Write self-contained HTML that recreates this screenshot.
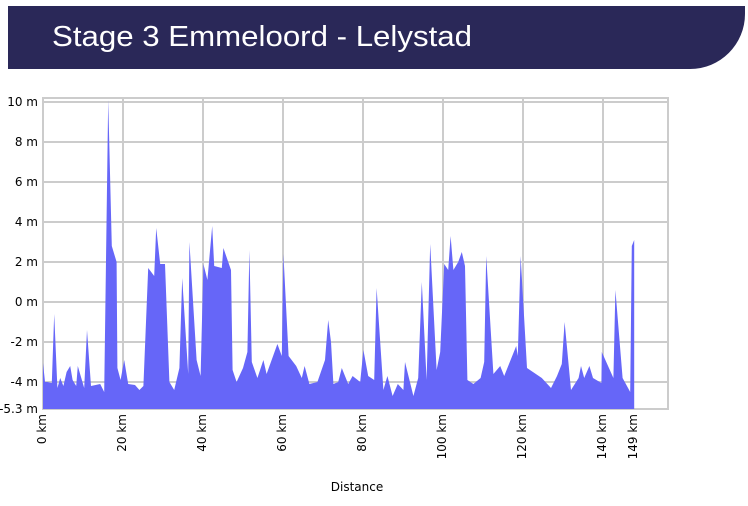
<!DOCTYPE html>
<html><head><meta charset="utf-8"><style>
html,body{margin:0;padding:0;background:#fff;width:748px;height:506px;overflow:hidden}
svg{display:block}
text{font-family:"DejaVu Sans","Liberation Sans",sans-serif}
</style></head><body>
<svg id="chart" width="748" height="506" viewBox="0 0 748 506">
<path d="M8 6 H745 V14 A55 55 0 0 1 690 69 H8 Z" fill="#2a2858"/>
<text x="52" y="46" fill="#fff" font-size="29" textLength="420" lengthAdjust="spacingAndGlyphs" style="font-family:'Liberation Sans',sans-serif">Stage 3 Emmeloord - Lelystad</text>
<g id="grid"></g>
<g id="area"></g>
<g id="axes"></g>
<text x="357" y="491" font-size="12" text-anchor="middle" fill="#000">Distance</text>
</svg>
<script>
const distKm=[0,0.5,1.1,2.2,2.8,3.6,4.3,5.1,5.9,6.8,7.4,8.3,8.7,10.3,11.0,12.0,14.3,15.3,16.3,17.2,18.4,18.6,19.4,20.3,21.3,23,24.1,25.1,26.3,27.8,28.3,29.3,30.5,31.6,32.8,34.1,34.8,36.3,36.6,38.4,39.4,40.1,41.1,42.3,42.8,44.7,45.1,47,47.4,48.4,50,51.1,51.6,52.2,53.6,55.1,55.9,58.6,59.7,60.1,61.4,63.3,64.7,65.4,66.6,68.6,70.5,71.3,72.0,72.6,73.8,74.7,76.3,77.4,79.3,80.1,81.3,82.8,83.4,85.1,86.1,87.4,88.7,90.1,90.5,92.6,93.8,94.7,95.9,96.8,98.4,99.3,100.3,101.3,101.9,102.6,103.8,104.7,105.5,106.1,107.6,109.4,110.3,110.8,112.6,114.3,115.3,118.3,118.7,119.4,121,124.7,127,128.5,129.7,130.4,132,133.9,134.5,135.3,136.6,137.5,139.6,139.7,142.6,143.1,144.9,146.8,147.2,147.8];
const elevM=[-3.05,-4.0,-4.0,-4.05,-0.6,-4.3,-3.8,-4.2,-3.5,-3.2,-3.9,-4.2,-3.2,-4.3,-1.4,-4.2,-4.1,-4.5,10.1,2.8,2.0,-3.3,-3.9,-2.9,-4.1,-4.15,-4.4,-4.2,1.7,1.3,3.7,1.9,1.9,-4.0,-4.4,-3.3,1.2,-3.6,3.0,-2.9,-3.7,1.9,1.1,3.8,1.8,1.7,2.7,1.6,-3.4,-4.0,-3.3,-2.5,2.6,-3.0,-3.8,-2.9,-3.6,-2.1,-2.7,2.4,-2.7,-3.2,-3.8,-3.2,-4.1,-4.0,-2.9,-0.9,-2.0,-4.1,-4.0,-3.3,-4.1,-3.7,-4.0,-2.4,-3.7,-3.9,0.7,-4.4,-3.7,-4.7,-4.1,-4.4,-3.0,-4.7,-3.8,1.0,-3.9,2.9,-3.4,-2.5,1.9,1.6,3.3,1.6,2.0,2.5,1.8,-3.9,-4.1,-3.8,-3.0,2.3,-3.6,-3.2,-3.7,-2.2,-2.7,2.3,-3.3,-3.8,-4.3,-3.7,-3.1,-1.0,-4.4,-3.8,-3.2,-3.8,-3.2,-3.8,-4.05,-2.5,-3.8,0.6,-3.8,-4.5,2.8,3.1];
const yTicks=[10,8,6,4,2,0,-2,-4];
const xTicks=[0,20,40,60,80,100,120,140];
const endLabel="149 km";
const yMin=-5.3;
const NS="http://www.w3.org/2000/svg";
const X=km=>43+4*km;
const Y=m=>302-20*m;
const L=43,R=668,T=98,B=409;
function mk(tag,attrs,parent){const e=document.createElementNS(NS,tag);for(const k in attrs)e.setAttribute(k,attrs[k]);parent.appendChild(e);return e;}
const grid=document.getElementById('grid'),area=document.getElementById('area'),axes=document.getElementById('axes');
let g=mk('rect',{x:L,y:T,width:R-L,height:B-T,fill:'none',stroke:'#ccc','stroke-width':2},grid);


yTicks.forEach(v=>{
  const l=mk('line',{x1:L,x2:R,y1:Y(v),y2:Y(v),stroke:'#ccc','stroke-width':2},grid);
  
  
  const t=mk('text',{x:38,y:Y(v)+4,'font-size':12,'text-anchor':'end',fill:'#000'},axes);
  t.textContent=v+' m';
  
  
});
const yl=mk('text',{x:38,y:B+4,'font-size':12,'text-anchor':'end',fill:'#000'},axes);
yl.textContent=yMin+' m';


xTicks.forEach(v=>{
  if(v>0){const l=mk('line',{x1:X(v),x2:X(v),y1:T,y2:B,stroke:'#ccc','stroke-width':2},grid);
  
  }
  const t=mk('text',{transform:`translate(${X(v)+3},${B+5}) rotate(-90)`,'font-size':12,'text-anchor':'end',fill:'#000'},axes);
  t.textContent=v+' km';
  
  
});
const lastX=X(distKm[distKm.length-1]);
const et=mk('text',{transform:`translate(${lastX+3},${B+5}) rotate(-90)`,'font-size':12,'text-anchor':'end',fill:'#000'},axes);
et.textContent=endLabel;


let d=`M${X(distKm[0])},${B}`;
distKm.forEach((k,i)=>{d+=` L${X(k)},${Y(elevM[i])}`;});
d+=` L${lastX},${B} Z`;
const p=mk('path',{d:d,fill:'#6666f8'},area);


</script>
</body></html>
